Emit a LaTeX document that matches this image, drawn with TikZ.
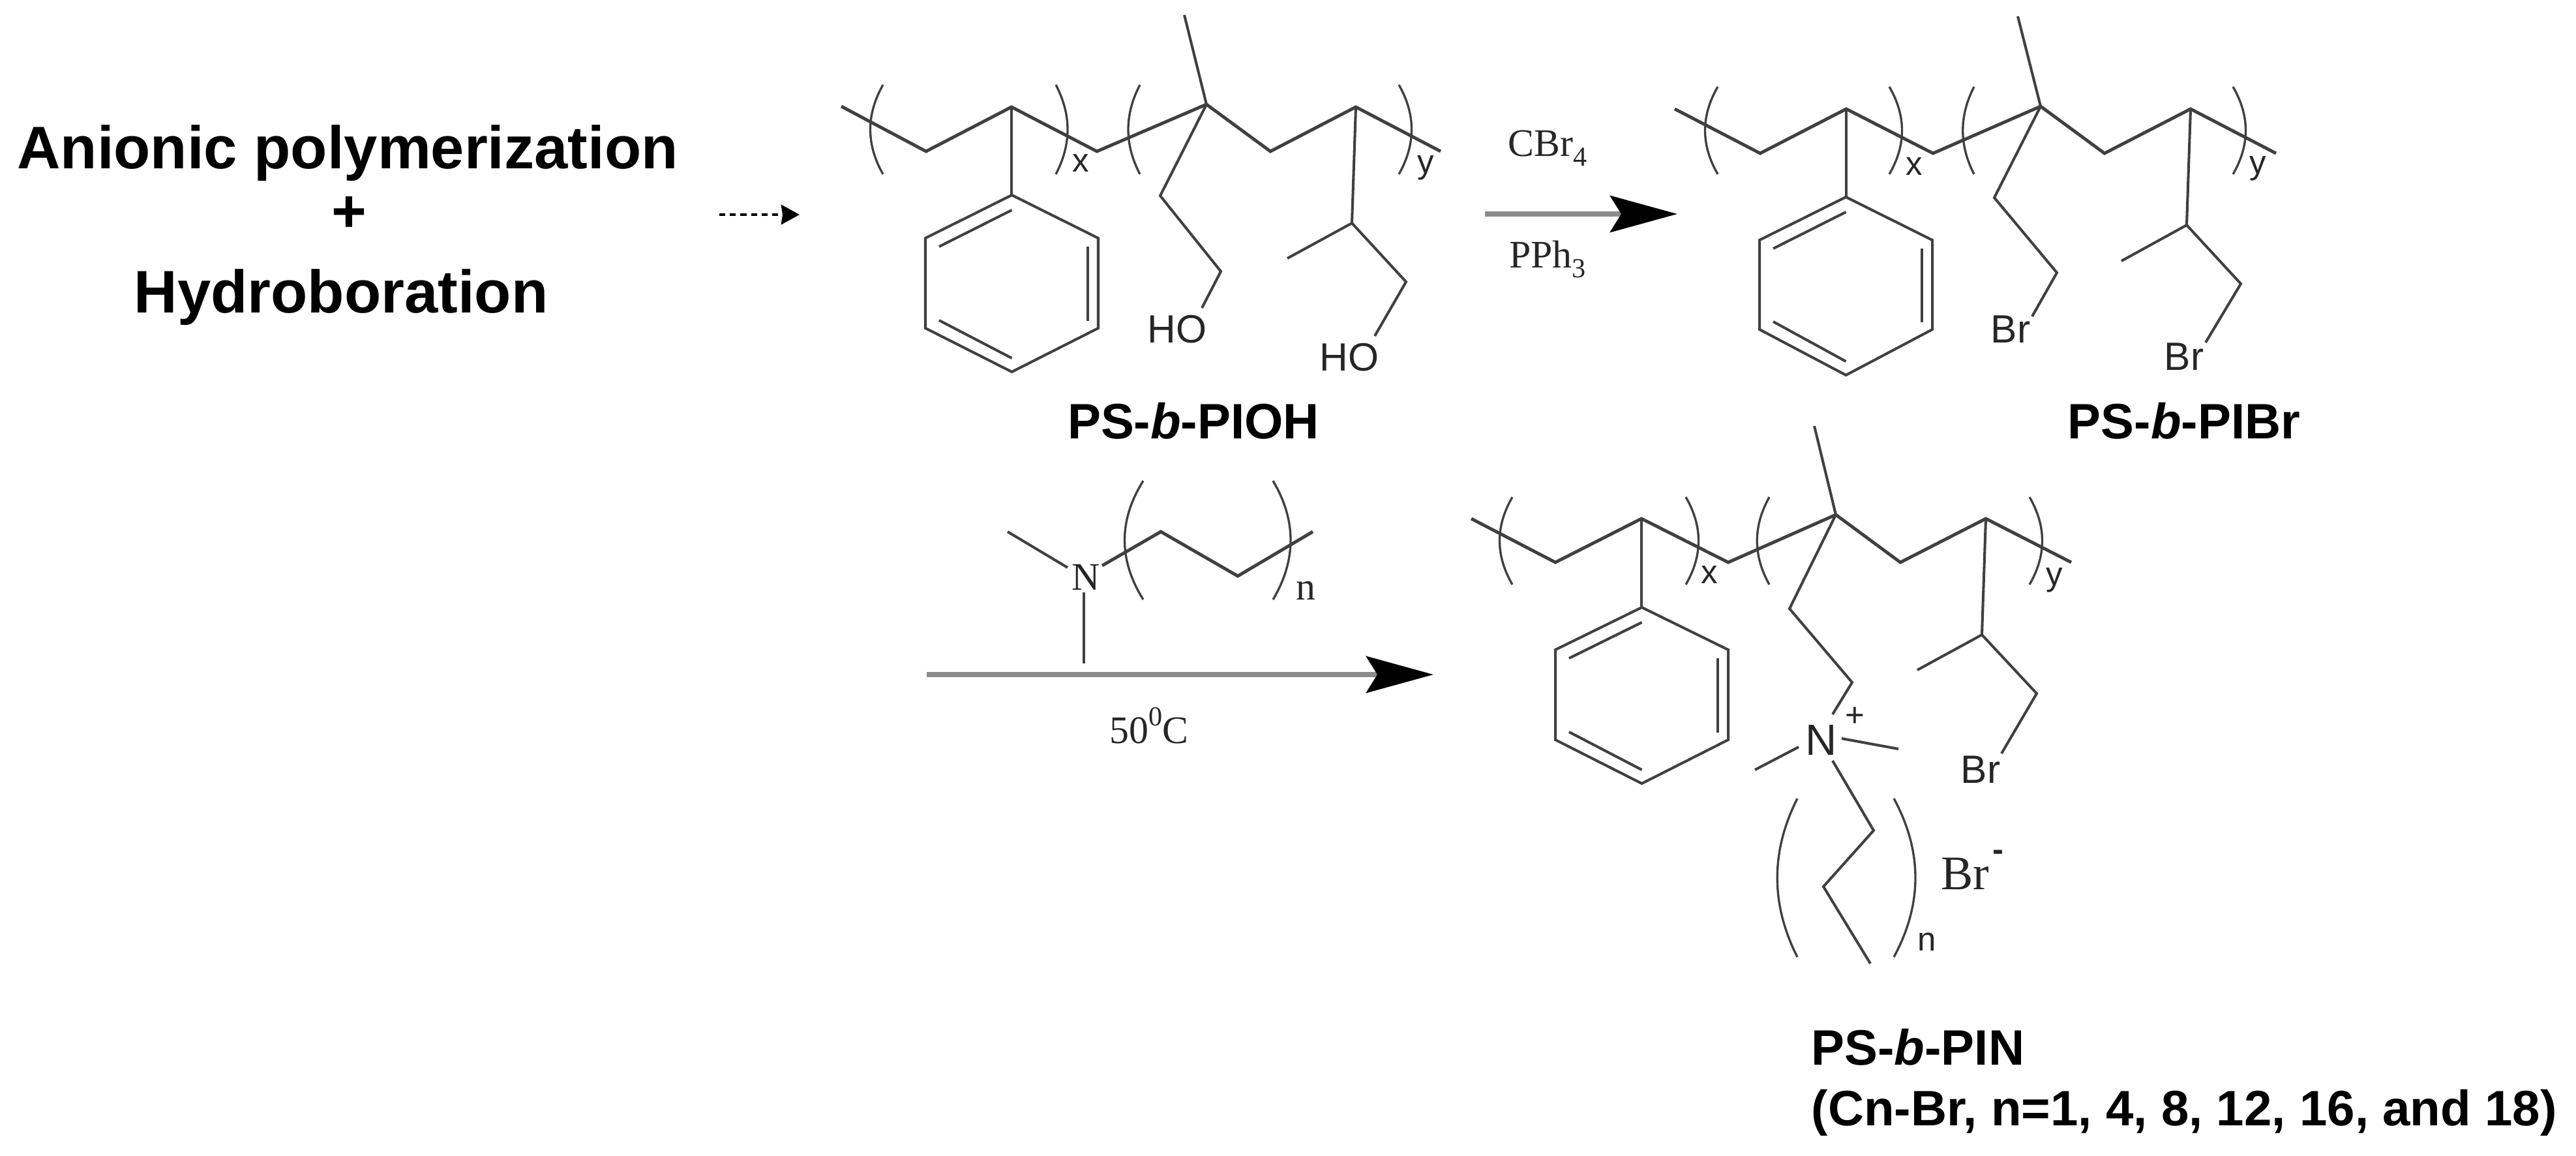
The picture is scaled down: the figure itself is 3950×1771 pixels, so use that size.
\documentclass[tikz,border=0pt]{standalone}
\usepackage{fontspec}
\setmainfont{Liberation Sans}
\newfontfamily\serifrm{Liberation Serif}
\usetikzlibrary{arrows.meta}
\definecolor{bond}{gray}{0.25}
\tikzset{
  x=0.01cm, y=-0.01cm,
  chainline/.style={draw=bond, line width=1.4pt, line join=miter},
  bondline/.style={draw=bond, line width=1.15pt},
  parenline/.style={draw=bond, line width=0.95pt},
  rxnarrow/.style={draw=black!45, line width=2.2pt, -{Stealth[black, length=1.03cm, width=0.56cm, inset=0.17cm]}},
  dotarrow/.style={draw=black, line width=1.3pt, dash pattern=on 2.6pt off 2pt, -{Stealth[black, length=0.28cm, width=0.3cm, inset=0.02cm]}},
  atom/.style={inner sep=0, text=black!85, font=\fontsize{17.2}{20}\selectfont},
  subs/.style={inner sep=0, text=black!85, font=\fontsize{14.5}{16}\selectfont},
  reagent/.style={inner sep=0, text=black!85, font=\serifrm\fontsize{17}{20}\selectfont},
  headline/.style={inner sep=0, anchor=base, font=\bfseries\fontsize{26.2}{30}\selectfont},
  label/.style={inner sep=0, anchor=base, font=\bfseries\fontsize{21.7}{25}\selectfont},
}
% #1 x at bracket tips, #2 y top, #3 y bottom, #4 horizontal pull of the curve
\newcommand{\polybracket}[4]{\draw[parenline] (#1,#2) .. controls ({#1+#4},{#2+(#3-#2)/3}) and ({#1+#4},{#2+2*(#3-#2)/3}) .. (#1,#3);}
% #1 left x, #2 right x, #3 top y, #4 upper y, #5 lower y, #6 bottom y
\newcommand{\phenylring}[6]{%
  \draw[bondline,line join=miter] ({(#1+#2)/2},#3) -- (#2,#4) -- (#2,#5) -- ({(#1+#2)/2},#6) -- (#1,#5) -- (#1,#4) -- cycle;
  \draw[bondline] ({#1+21},{#4+13}) -- ({(#1+#2)/2},{#3+23});
  \draw[bondline] ({#2-16},{#4+13}) -- ({#2-16},{#5-11});
  \draw[bondline] ({#1+21},{#5-12}) -- ({(#1+#2)/2},{#6-21});
}
\begin{document}
\begin{tikzpicture}
\useasboundingbox (0,0) rectangle (3950,1771);

% left text
\node[headline] (tanionic) at (533,258) {Anionic polymerization};
\node[headline] (tplus) at (535,355) {+};
\node[headline] (thydro) at (523,479) {Hydroboration};
\coordinate (dotstart) at (1103,329);
\coordinate (dotend) at (1226,329);
\draw[dotarrow] (dotstart) -- (dotend);

% structure 1: PS-b-PIOH
\draw[chainline] (1290,163) -- (1420,232) -- (1551,164) -- (1682,232) -- (1850,160) -- (1948,232) -- (2079,164) -- (2209,232);
\polybracket{1354}{130}{267}{-26}
\polybracket{1619}{130}{267}{24}
\polybracket{1748}{130}{267}{-24}
\polybracket{2145}{130}{267}{26}
\node[subs] (ax) at (1657,250) {x};
\node[subs] (ay) at (2186,257) {y};
\draw[bondline] (1551,164) -- (1551,299);
\phenylring{1419}{1684}{299}{365}{503}{570}
\draw[bondline] (1816,23) -- (1850,160);
\draw[bondline,line join=miter] (1850,160) -- (1779,300) -- (1872,416) -- (1843,472);
\draw[bondline,line join=miter] (2079,164) -- (2073,342) -- (2156,432) -- (2108,515);
\draw[bondline] (2073,342) -- (1974,396);
\node[atom] (aho1) at (1805,505) {HO};
\node[atom] (aho2) at (2069,548) {HO};
\node[label] (tpioh) at (1830,672) {PS-\textit{b}-PIOH};

% arrow 1
\node[reagent] (rcbr) at (2373,227) {CBr\raisebox{-0.25em}{\fontsize{12}{14}\selectfont 4}};
\node[reagent] (rpph) at (2373,397) {PPh\raisebox{-0.25em}{\fontsize{12}{14}\selectfont 3}};
\coordinate (a1s) at (2277,328);
\coordinate (a1e) at (2572,328);
\draw[rxnarrow] (a1s) -- (a1e);

% structure 2: PS-b-PIBr
\draw[chainline] (2568,167) -- (2699,235) -- (2831,167) -- (2964,235) -- (3129,163) -- (3227,235) -- (3359,167) -- (3490,235);
\polybracket{2634}{133}{267}{-26}
\polybracket{2897}{133}{267}{26}
\polybracket{3027}{133}{267}{-23}
\polybracket{3424}{133}{267}{26}
\node[subs] (bx) at (2935,255) {x};
\node[subs] (by) at (3462,258) {y};
\draw[bondline] (2831,167) -- (2831,302);
\phenylring{2698}{2963}{302}{368}{505}{575}
\draw[bondline] (3094,25) -- (3129,163);
\draw[bondline,line join=miter] (3129,163) -- (3058,303) -- (3154,418) -- (3116,485);
\draw[bondline,line join=miter] (3359,167) -- (3353,345) -- (3436,435) -- (3382,525);
\draw[bondline] (3353,345) -- (3253,400);
\node[atom] (abr1) at (3083,505) {Br};
\node[atom] (abr2) at (3349,547) {Br};
\node[label] (tpibr) at (3349,672) {PS-\textit{b}-PIBr};

% reagent amine
\draw[bondline] (1545,815) -- (1637,870);
\node[reagent] (rn) at (1665,885) {N};
\draw[bondline] (1662,908) -- (1662,1017);
\draw[chainline] (1690,867) -- (1780,815) -- (1898,883) -- (2013,815);
\polybracket{1753}{737}{919}{-38}
\polybracket{1952}{737}{919}{36}
\node[reagent] (rnn) at (2002,905) {n};

% arrow 2
\coordinate (a2s) at (1421,1034);
\coordinate (a2e) at (2198,1034);
\draw[rxnarrow] (a2s) -- (a2e);
\node[reagent] (rtemp) at (1762,1112) {50\raisebox{0.45em}{\fontsize{12}{14}\selectfont 0}C};

% structure 3: PS-b-PIN
\draw[chainline] (2256,795) -- (2385,862) -- (2517,795) -- (2650,862) -- (2815,789) -- (2914,862) -- (3045,795) -- (3176,862);
\polybracket{2319}{762}{896}{-26}
\polybracket{2585}{762}{896}{26}
\polybracket{2713}{762}{896}{-25}
\polybracket{3112}{762}{896}{26}
\node[subs] (cx) at (2621,881) {x};
\node[subs] (cy) at (3150,889) {y};
\draw[bondline] (2517,795) -- (2517,931);
\phenylring{2385}{2650}{931}{996}{1134}{1201}
\draw[bondline] (2782,653) -- (2815,789);
\draw[bondline,line join=miter] (2815,789) -- (2744,933) -- (2840,1046) -- (2810,1095);
\node[atom,font=\fontsize{19}{22}\selectfont] (cn) at (2793,1134) {N};
\node[subs] (cplus) at (2844,1099) {+};
\draw[bondline] (2824,1132) -- (2911,1148);
\draw[bondline] (2758,1145) -- (2691,1180);
\draw[bondline,line join=miter] (2810,1166) -- (2873,1273) -- (2796,1359) -- (2868,1477);
\polybracket{2756}{1224}{1467}{-41}
\polybracket{2904}{1224}{1467}{44}
\node[subs] (cnn) at (2955,1444) {n};
\draw[bondline,line join=miter] (3045,795) -- (3039,973) -- (3123,1063) -- (3069,1155);
\draw[bondline] (3039,973) -- (2940,1027);
\node[atom] (abr3) at (3037,1180) {Br};
\node[reagent,font=\serifrm\fontsize{21}{24}\selectfont] (cbrm) at (3013,1339) {Br};
\node[subs,font=\bfseries\fontsize{14.5}{16}\selectfont] (cminus) at (3064,1311) {-};
\node[label,anchor=base west] (tpin) at (2777,1632) {PS-\textit{b}-PIN};
\node[label,anchor=base west] (tcn) at (2777,1725) {(Cn-Br, n=1, 4, 8, 12, 16, and 18)};
\end{tikzpicture}
\end{document}
